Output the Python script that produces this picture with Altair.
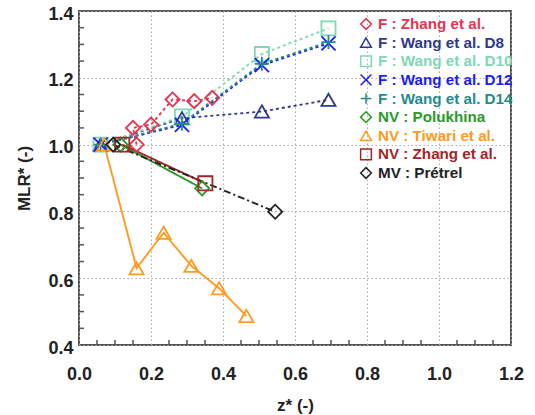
import altair as alt
import pandas as pd

# ---------------- data ----------------
series = ["F : Zhang et al.", "F : Wang et al. D8", "F : Wang et al. D10",
          "F : Wang et al. D12", "F : Wang et al. D14", "NV : Polukhina",
          "NV : Tiwari et al.", "NV : Zhang et al.", "MV : Prétrel"]
colors = ["#e4344f", "#2d3a8c", "#7fd8b4", "#1c1cf5", "#1f8c8c",
          "#2a9a2a", "#ff9a22", "#a32626", "#222222"]
shapes = ["diamond", "triangle-up", "square", "M-1,-1L1,1M-1,1L1,-1",
          "M-1,0L1,0M0,-1L0,1", "diamond", "triangle-up", "square", "diamond"]
dashes = [[3, 3]] * 5 + [[1, 0]] * 3 + [[7, 3, 2, 3]]

zhangF_x = [0.16, 0.15, 0.20, 0.26, 0.32, 0.37]
zhangF_y = [1.00, 1.05, 1.06, 1.135, 1.13, 1.14]
wang_x = [0.06, 0.286, 0.508, 0.693]
d8_y = [1.0, 1.079, 1.099, 1.134]
d10_y = [1.0, 1.084, 1.271, 1.348]
d12_y = [1.0, 1.059, 1.238, 1.303]
d14_y = [1.0, 1.063, 1.242, 1.307]
polukhina_x = [0.115, 0.342]
polukhina_y = [1.0, 0.869]
tiwari_x = [0.07, 0.160, 0.235, 0.312, 0.389, 0.465]
tiwari_y = [1.0, 0.630, 0.736, 0.637, 0.570, 0.487]
zhangNV_x = [0.12, 0.351]
zhangNV_y = [1.0, 0.884]
pretrel_x = [0.095, 0.545]
pretrel_y = [1.0, 0.799]

x_major = [0.0, 0.2, 0.4, 0.6, 0.8, 1.0, 1.2]
y_major = [0.4, 0.6, 0.8, 1.0, 1.2, 1.4]
x_minor = [0.05, 0.1, 0.15, 0.25, 0.3, 0.35, 0.45, 0.5, 0.55, 0.65, 0.7, 0.75,
           0.85, 0.9, 0.95, 1.05, 1.1, 1.15]
y_minor = [0.45, 0.5, 0.55, 0.65, 0.7, 0.75, 0.85, 0.9, 0.95, 1.05, 1.1, 1.15,
           1.25, 1.3, 1.35]

# ---------------- tables ----------------
pairs = [(zhangF_x, zhangF_y), (wang_x, d8_y), (wang_x, d10_y), (wang_x, d12_y),
         (wang_x, d14_y), (polukhina_x, polukhina_y), (tiwari_x, tiwari_y),
         (zhangNV_x, zhangNV_y), (pretrel_x, pretrel_y)]
rows = []
for s, (xs, ys) in zip(series, pairs):
    for i, (xv, yv) in enumerate(zip(xs, ys)):
        rows.append({"series": s, "z": xv, "mlr": yv, "ord": i})
df = pd.DataFrame(rows)
leg = pd.DataFrame({"series": series, "idx": list(range(len(series)))})

FONT = "Liberation Sans"
AX = "#555555"

color = alt.Color("series:N", scale=alt.Scale(domain=series, range=colors), legend=None)
shape = alt.Shape("series:N", scale=alt.Scale(domain=series, range=shapes), legend=None)
dash = alt.StrokeDash("series:N", scale=alt.Scale(domain=series, range=dashes), legend=None)

xscale = alt.Scale(domain=[0, 1.2], nice=False, zero=False)
yscale = alt.Scale(domain=[0.4, 1.4], nice=False, zero=False)

xenc = alt.X("z:Q", scale=xscale, title="z* (-)",
             axis=alt.Axis(values=x_major, format=".1f", ticks=False, domain=False,
                           labelFlush=False, labelOverlap=False,
                           grid=True, gridDash=[1.5, 2.5], gridColor="#aaaaaa",
                           labelFont=FONT, labelFontSize=18, labelFontWeight="bold",
                           labelColor="#222", labelPadding=20,
                           titleFont=FONT, titleFontSize=17, titleFontWeight="bold",
                           titleColor="#222", titlePadding=14))
yenc = alt.Y("mlr:Q", scale=yscale, title="MLR* (-)",
             axis=alt.Axis(values=y_major, format=".1f", ticks=False, domain=False,
                           labelFlush=False, labelOverlap=False,
                           grid=True, gridDash=[1.5, 2.5], gridColor="#aaaaaa",
                           labelFont=FONT, labelFontSize=18, labelFontWeight="bold",
                           labelColor="#222", labelPadding=6, labelOffset=3,
                           titleFont=FONT, titleFontSize=17, titleFontWeight="bold",
                           titleColor="#222", titlePadding=14))

base = alt.Chart(df)
lines = base.mark_line(strokeWidth=1.9).encode(
    x=xenc, y=yenc, color=color, strokeDash=dash, order="ord:Q", detail="series:N")
points = base.mark_point(filled=False, size=200, strokeWidth=1.8, opacity=1).encode(
    x=alt.X("z:Q", scale=xscale), y=alt.Y("mlr:Q", scale=yscale),
    color=color, shape=shape)

xt = alt.Chart(pd.DataFrame({"v": x_minor})).mark_rule(color=AX, strokeWidth=1.5).encode(
    x=alt.X("v:Q", scale=xscale), y=alt.value(334), y2=alt.value(329))
yt = alt.Chart(pd.DataFrame({"v": y_minor})).mark_rule(color=AX, strokeWidth=1.5).encode(
    y=alt.Y("v:Q", scale=yscale), x=alt.value(0), x2=alt.value(5))

main = alt.layer(lines, points, xt, yt)

lyscale = alt.Scale(domain=[0, 8], range=[13, 162])
legsym = alt.Chart(leg).mark_point(filled=False, size=115, strokeWidth=1.5, opacity=1).encode(
    x=alt.value(287), y=alt.Y("idx:Q", scale=lyscale, axis=None), color=color, shape=shape)
legtxt = alt.Chart(leg).mark_text(align="left", baseline="middle", font=FONT,
                                  fontSize=15.2, fontWeight="bold").encode(
    x=alt.value(299), y=alt.Y("idx:Q", scale=lyscale, axis=None), color=color,
    text="series:N")
legend = alt.layer(legsym, legtxt)

chart = alt.layer(main, legend).resolve_scale(y="independent").properties(
    width=432, height=334,
    autosize=alt.AutoSizeParams(type="none"),
    padding={"left": 79, "top": 11, "right": 24, "bottom": 70},
    background="white",
).configure_view(stroke=AX, strokeWidth=2)

chart.save("out.html", embed_options={"renderer": "svg", "actions": False})
